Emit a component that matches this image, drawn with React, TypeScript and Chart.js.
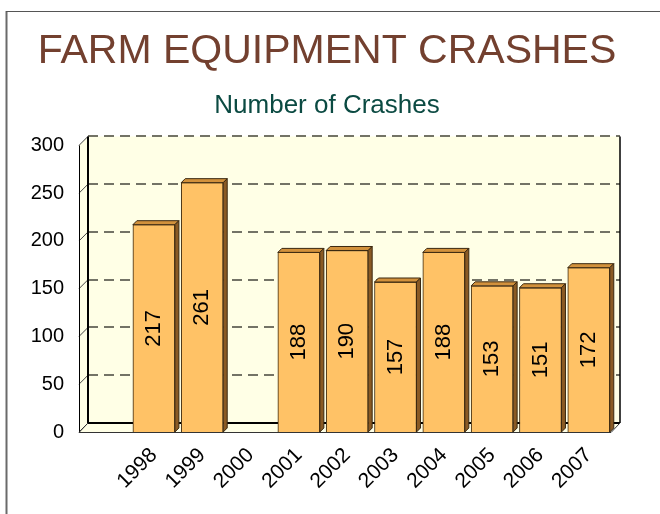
import React, { useEffect, useRef } from "react";
import { Chart, registerables } from "chart.js";

Chart.register(...registerables);

const titleText = "FARM EQUIPMENT CRASHES";
const subtitleText = "Number of Crashes";
const years = ["1998", "1999", "2000", "2001", "2002", "2003", "2004", "2005", "2006", "2007"];
const crashes: (number | null)[] = [217, 261, null, 188, 190, 157, 188, 153, 151, 172];
const yTicks = [0, 50, 100, 150, 200, 250, 300];

const FONT = "'Liberation Sans', Arial, Helvetica, sans-serif";
const DX = 9;
const DY = -9;
const BAR_D = 4;

const framePlugin = {
  id: "frame",
  beforeDraw(chart: any) {
    const ctx = chart.ctx;
    ctx.save();
    ctx.fillStyle = "#ffffff";
    ctx.fillRect(0, 0, chart.width, chart.height);
    ctx.strokeStyle = "#6a6a6a";
    ctx.lineWidth = 2;
    ctx.beginPath();
    ctx.moveTo(6.5, chart.height);
    ctx.lineTo(6.5, 11);
    ctx.stroke();
    ctx.lineWidth = 1;
    ctx.strokeStyle = "#555555";
    ctx.beginPath();
    ctx.moveTo(6, 11.5);
    ctx.lineTo(chart.width, 11.5);
    ctx.stroke();
    ctx.restore();
  },
};

const wallsPlugin = {
  id: "walls3d",
  beforeDatasetsDraw(chart: any) {
    const ctx = chart.ctx;
    const { left, right, top, bottom } = chart.chartArea;
    const ys = chart.scales.y;
    ctx.save();
    const wall = "#FFFFE6";
    ctx.fillStyle = wall;
    ctx.fillRect(left + DX, top + DY, right - left, bottom - top);
    ctx.beginPath();
    ctx.moveTo(left, top);
    ctx.lineTo(left + DX, top + DY);
    ctx.lineTo(left + DX, bottom + DY);
    ctx.lineTo(left, bottom);
    ctx.closePath();
    ctx.fill();
    ctx.beginPath();
    ctx.moveTo(left, bottom);
    ctx.lineTo(left + DX, bottom + DY);
    ctx.lineTo(right + DX, bottom + DY);
    ctx.lineTo(right, bottom);
    ctx.closePath();
    ctx.fill();

    for (const v of yTicks) {
      const y = ys.getPixelForValue(v);
      if (v !== 0) {
        ctx.strokeStyle = "#737366";
        ctx.lineWidth = 2;
        ctx.setLineDash([10, 6]);
        ctx.beginPath();
        ctx.moveTo(left + DX, Math.round(y + DY));
        ctx.lineTo(right + DX, Math.round(y + DY));
        ctx.stroke();
        ctx.setLineDash([]);
      }
      ctx.strokeStyle = "#444444";
      ctx.lineWidth = 1;
      ctx.beginPath();
      ctx.moveTo(left, y);
      ctx.lineTo(left + DX, y + DY);
      ctx.stroke();
    }

    ctx.strokeStyle = "#000000";
    ctx.lineWidth = 1;
    ctx.beginPath();
    ctx.moveTo(left + 0.5, top);
    ctx.lineTo(left + 0.5, bottom);
    ctx.stroke();
    ctx.lineWidth = 2;
    ctx.beginPath();
    ctx.moveTo(left + DX, top + DY);
    ctx.lineTo(left + DX, bottom + DY);
    ctx.stroke();
    ctx.beginPath();
    ctx.moveTo(left + DX, bottom + DY);
    ctx.lineTo(right + DX, bottom + DY);
    ctx.stroke();
    ctx.lineWidth = 1.5;
    ctx.beginPath();
    ctx.moveTo(right + DX, top + DY);
    ctx.lineTo(right + DX, bottom + DY);
    ctx.stroke();
    ctx.lineWidth = 1;
    ctx.strokeStyle = "#333333";
    ctx.beginPath();
    ctx.moveTo(left + DX, bottom + DY);
    ctx.lineTo(left, bottom + 0.5);
    ctx.lineTo(right, bottom + 0.5);
    ctx.lineTo(right + DX, bottom + DY);
    ctx.stroke();
    ctx.restore();
  },
  afterDatasetsDraw(chart: any) {
    const ctx = chart.ctx;
    const meta = chart.getDatasetMeta(0);
    ctx.save();
    meta.data.forEach((el: any, i: number) => {
      const v = crashes[i];
      if (v === null || v === undefined) return;
      const { x, y, base, width } = el.getProps(["x", "y", "base", "width"], true);
      const l = x - width / 2;
      const r = x + width / 2;
      ctx.strokeStyle = "#3a2810";
      ctx.lineWidth = 1;
      ctx.fillStyle = "#D2913C";
      ctx.beginPath();
      ctx.moveTo(l, y);
      ctx.lineTo(l + BAR_D, y - BAR_D);
      ctx.lineTo(r + BAR_D, y - BAR_D);
      ctx.lineTo(r, y);
      ctx.closePath();
      ctx.fill();
      ctx.stroke();
      ctx.fillStyle = "#8A5A24";
      ctx.beginPath();
      ctx.moveTo(r, y);
      ctx.lineTo(r + BAR_D, y - BAR_D);
      ctx.lineTo(r + BAR_D, base - BAR_D);
      ctx.lineTo(r, base);
      ctx.closePath();
      ctx.fill();
      ctx.stroke();
      ctx.save();
      ctx.translate(x, (y + base) / 2);
      ctx.rotate(-Math.PI / 2);
      ctx.fillStyle = "#000000";
      ctx.font = `22px ${FONT}`;
      ctx.textAlign = "center";
      ctx.textBaseline = "middle";
      ctx.fillText(String(v), 0, 0);
      ctx.restore();
    });
    ctx.restore();
  },
};

export default function App() {
  const ref = useRef<HTMLCanvasElement | null>(null);

  useEffect(() => {
    if (!ref.current) return;
    const chart = new Chart(ref.current, {
      type: "bar",
      data: {
        datasets: [
          {
            data: years.map((_, i) => ({ x: i, y: crashes[i] })) as any,
            backgroundColor: "#FFC266",
            borderColor: "#3a2810",
            borderWidth: 1,
            barThickness: 42,
          },
        ],
      },
      options: {
        animation: false,
        responsive: false,
        devicePixelRatio: 1,
        layout: { padding: { left: 0, right: 6, top: 0, bottom: 0 } },
        plugins: {
          legend: { display: false },
          tooltip: { enabled: false },
          title: {
            display: true,
            text: titleText,
            color: "#73402F",
            font: { family: FONT, size: 41, weight: "normal" },
            padding: { top: 27, bottom: 14 },
          },
          subtitle: {
            display: true,
            text: subtitleText,
            color: "#0B4A42",
            font: { family: FONT, size: 26, weight: "normal" },
            padding: { top: 0, bottom: 24 },
          },
        },
        scales: {
          x: {
            type: "linear",
            offset: false,
            min: -1.55,
            max: 9.46,
            afterBuildTicks: (s: any) => {
              s.ticks = years.map((_, i) => ({ value: i }));
            },
            afterFit: (s: any) => {
              s.height = 82;
              s.paddingLeft = 0;
              s.paddingRight = 49;
            },
            ticks: {
              autoSkip: false,
              maxRotation: 45,
              minRotation: 45,
              padding: 11,
              color: "#000000",
              font: { family: FONT, size: 21 },
              callback: (v: any) => years[v as number] ?? "",
            },
            grid: { display: false, drawTicks: false, offset: false },
            border: { display: false },
          },
          y: {
            min: 0,
            max: 300,
            afterBuildTicks: (s: any) => {
              s.ticks = yTicks.map((v) => ({ value: v }));
            },
            afterFit: (s: any) => {
              s.width = 79;
            },
            ticks: {
              padding: 15,
              color: "#000000",
              font: { family: FONT, size: 20 },
            },
            grid: { display: false, drawTicks: false },
            border: { display: false },
          },
        },
      } as any,
      plugins: [framePlugin, wallsPlugin],
    });
    return () => chart.destroy();
  }, []);

  return (
    <div style={{ position: "fixed", left: 0, top: 0, width: 660, height: 514 }}>
      <canvas ref={ref} width={660} height={514} style={{ display: "block" }} />
    </div>
  );
}
